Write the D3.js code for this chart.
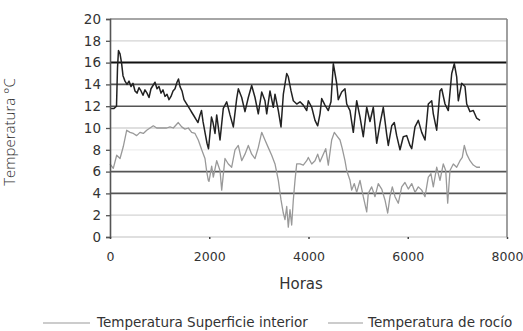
<!DOCTYPE html>
<html>
<head>
<meta charset="utf-8">
<script src="https://cdn.jsdelivr.net/npm/d3@7"></script>
<style>
  html, body { margin: 0; padding: 0; background: #fff; }
  svg { display: block; }
</style>
</head>
<body>
<svg id="chart" width="523" height="331"></svg>
<script>
// Hourly record: interior surface temperature vs dew point (°C)
const seriesNames = ["Temperatura Superficie interior", "Temperatura de rocío"];

const surfaceHours = [20, 81, 131, 151, 171, 202, 232, 262, 302, 343, 383, 423, 463, 504, 544, 584, 625, 665, 705, 746, 786, 826, 866, 907, 947, 987, 1028, 1068, 1108, 1149, 1189, 1229, 1270, 1310, 1350, 1380, 1411, 1451, 1491, 1531, 1572, 1612, 1652, 1693, 1733, 1773, 1814, 1844, 1874, 1914, 1955, 1985, 2015, 2045, 2076, 2116, 2150, 2217, 2283, 2352, 2418, 2485, 2553, 2586, 2654, 2720, 2787, 2855, 2922, 2988, 3057, 3123, 3158, 3224, 3291, 3325, 3392, 3446, 3493, 3561, 3593, 3648, 3694, 3763, 3829, 3895, 3964, 3996, 4065, 4131, 4185, 4232, 4266, 4332, 4399, 4453, 4500, 4534, 4568, 4600, 4669, 4735, 4770, 4836, 4903, 4971, 5038, 5104, 5173, 5239, 5306, 5374, 5441, 5507, 5576, 5608, 5677, 5729, 5777, 5844, 5910, 5979, 6045, 6080, 6146, 6213, 6281, 6348, 6414, 6483, 6515, 6583, 6650, 6684, 6751, 6817, 6886, 6938, 6986, 7019, 7087, 7154, 7188, 7254, 7321, 7389, 7456];
const surfaceTemp = [11.8, 11.8, 12.0, 15.5, 17.1, 16.8, 16.0, 14.8, 14.3, 14.0, 14.3, 13.8, 14.1, 13.4, 13.2, 13.7, 13.4, 13.0, 13.5, 13.2, 12.8, 13.6, 13.9, 14.2, 13.6, 13.8, 13.2, 13.5, 12.9, 13.1, 12.6, 12.9, 13.4, 13.6, 14.2, 14.5, 13.8, 13.4, 12.6, 12.3, 12.0, 11.7, 11.4, 11.1, 10.8, 10.5, 11.2, 11.6, 10.6, 9.6, 8.6, 8.1, 9.5, 11.0, 10.5, 9.5, 11.2, 8.9, 11.8, 12.4, 11.2, 10.1, 12.7, 13.6, 12.8, 11.5, 12.8, 13.9, 12.8, 11.3, 13.3, 12.5, 11.3, 13.4, 11.9, 13.1, 11.6, 10.1, 13.1, 15.0, 14.7, 13.4, 12.5, 12.2, 12.4, 12.1, 11.6, 12.5, 11.9, 10.7, 10.2, 11.3, 12.7, 12.1, 11.6, 12.4, 15.9, 15.0, 14.1, 12.6, 13.3, 13.6, 12.2, 11.6, 9.6, 12.5, 11.0, 9.2, 11.9, 10.6, 11.9, 8.6, 10.4, 11.9, 9.4, 8.4, 10.2, 10.5, 9.3, 8.0, 9.2, 9.3, 8.4, 8.1, 10.1, 10.7, 9.6, 8.9, 12.2, 12.5, 11.3, 9.8, 13.4, 13.6, 12.2, 11.6, 15.0, 15.9, 14.7, 12.5, 14.1, 13.8, 12.2, 11.5, 11.6, 10.9, 10.7];

const dewHours = [0, 66, 135, 202, 268, 337, 403, 470, 538, 605, 671, 740, 806, 873, 941, 1008, 1074, 1143, 1209, 1276, 1376, 1445, 1511, 1578, 1646, 1713, 1779, 1848, 1914, 1949, 1981, 1995, 2049, 2082, 2150, 2217, 2251, 2317, 2384, 2452, 2519, 2585, 2654, 2720, 2787, 2855, 2922, 2988, 3057, 3123, 3190, 3258, 3325, 3392, 3446, 3492, 3526, 3561, 3593, 3627, 3661, 3694, 3728, 3762, 3829, 3895, 3964, 3996, 4065, 4131, 4185, 4232, 4298, 4347, 4399, 4467, 4520, 4568, 4635, 4681, 4735, 4770, 4836, 4870, 4923, 4971, 5038, 5104, 5173, 5205, 5273, 5340, 5406, 5475, 5541, 5596, 5642, 5689, 5743, 5810, 5878, 5944, 6011, 6080, 6146, 6213, 6281, 6348, 6414, 6468, 6515, 6583, 6650, 6716, 6765, 6805, 6851, 6918, 6986, 7053, 7099, 7140, 7188, 7254, 7321, 7389, 7456];
const dewTemp = [6.7, 6.3, 7.5, 7.2, 8.3, 9.8, 9.6, 9.5, 9.3, 9.6, 9.5, 9.8, 10.0, 10.2, 10.0, 10.0, 10.0, 10.0, 10.1, 10.0, 10.5, 10.1, 9.9, 10.0, 9.6, 9.5, 8.9, 8.0, 7.2, 6.0, 5.2, 5.1, 6.5, 5.5, 7.0, 6.1, 4.3, 7.2, 6.7, 6.4, 8.0, 8.4, 7.0, 7.6, 8.4, 7.6, 7.2, 8.2, 9.6, 8.9, 8.2, 7.5, 6.7, 5.2, 3.4, 2.2, 1.6, 2.8, 0.9, 2.5, 1.1, 3.4, 5.2, 6.7, 6.7, 6.6, 7.0, 7.3, 6.7, 7.0, 7.6, 6.9, 7.6, 8.1, 6.6, 8.9, 9.6, 9.3, 8.9, 8.1, 7.0, 6.1, 5.2, 4.3, 4.9, 4.1, 5.2, 3.7, 2.3, 4.0, 4.6, 3.7, 4.9, 4.4, 3.4, 2.2, 3.7, 4.6, 3.7, 3.1, 4.6, 5.0, 4.4, 4.9, 4.1, 4.6, 4.3, 3.7, 5.5, 5.8, 4.6, 6.4, 5.2, 6.7, 6.1, 3.1, 6.1, 6.7, 6.4, 7.0, 7.3, 8.4, 7.6, 7.0, 6.6, 6.4, 6.4];

const yTicks = [0, 2, 4, 6, 8, 10, 12, 14, 16, 18, 20];
const xTicks = [0, 2000, 4000, 6000, 8000];
const xTitle = "Horas";
const yTitle = "Temperatura °C";

const svg = d3.select("#chart");
const x = d3.scaleLinear().domain([0, 8000]).range([110, 507]);
const y = d3.scaleLinear().domain([0, 20]).range([237, 19]);

// horizontal grid: some levels drawn heavier
const heavy = new Set([16]);
const medium = new Set([14, 12, 6, 4]);
const faint = new Set([8]);
svg.append("g").selectAll("line").data(yTicks.filter(v => v < 20)).join("line")
  .attr("x1", x(0)).attr("x2", x(8000))
  .attr("y1", d => y(d)).attr("y2", d => y(d))
  .attr("stroke", d => heavy.has(d) ? "#111" : medium.has(d) ? "#555" : faint.has(d) ? "#eee" : "#d4d4d4")
  .attr("stroke-width", d => heavy.has(d) ? 2 : medium.has(d) ? 1.6 : 1.3);

// frame: top and right
svg.append("line").attr("x1", x(0)).attr("x2", x(8000)).attr("y1", y(20)).attr("y2", y(20))
  .attr("stroke", "#888").attr("stroke-width", 1.6);
svg.append("line").attr("x1", x(8000)).attr("x2", x(8000)).attr("y1", y(20)).attr("y2", y(0))
  .attr("stroke", "#888").attr("stroke-width", 1.6);

// series lines
const line = d3.line().x(d => x(d[0])).y(d => y(d[1]));
svg.append("path").datum(dewHours.map((h, i) => [h, dewTemp[i]]))
  .attr("d", line).attr("fill", "none").attr("stroke", "#999").attr("stroke-width", 1.3)
  .attr("stroke-linejoin", "round");
svg.append("path").datum(surfaceHours.map((h, i) => [h, surfaceTemp[i]]))
  .attr("d", line).attr("fill", "none").attr("stroke", "#222").attr("stroke-width", 1.5)
  .attr("stroke-linejoin", "round");

// y axis
const yAxis = svg.append("g").attr("transform", `translate(${x(0)},0)`)
  .call(d3.axisLeft(y).tickValues(yTicks).tickSize(4).tickPadding(5));
yAxis.select(".domain").attr("stroke", "#555").attr("stroke-width", 1.6);
yAxis.selectAll(".tick line").attr("stroke", "#555").attr("stroke-width", 1.3);
yAxis.selectAll("text").attr("font-family", "DejaVu Sans").attr("font-size", 13.5).attr("fill", "#333");

// x axis
const xAxis = svg.append("g").attr("transform", `translate(0,${y(0)})`)
  .call(d3.axisBottom(x).tickValues(xTicks).tickFormat(d3.format("d")).tickSize(2).tickPadding(13));
xAxis.select(".domain").remove();
xAxis.selectAll(".tick line").attr("stroke", "#444").attr("stroke-width", 1.5);
xAxis.selectAll("text").attr("font-family", "DejaVu Sans").attr("font-size", 12.5).attr("fill", "#333");

// titles
svg.append("text").attr("x", 301).attr("y", 289).attr("text-anchor", "middle")
  .attr("font-family", "DejaVu Sans").attr("font-size", 15).attr("fill", "#333").text(xTitle);
svg.append("text").attr("transform", "translate(15,132) rotate(-90)").attr("text-anchor", "middle")
  .attr("font-family", "Open Sans").attr("font-weight", 300).attr("font-size", 15).attr("fill", "#333")
  .text(yTitle);

// legend
const legend = [
  { name: seriesNames[0], x1: 43, x2: 90, tx: 97 },
  { name: seriesNames[1], x1: 328, x2: 363, tx: 368 }
];
legend.forEach(l => {
  svg.append("line").attr("x1", l.x1).attr("x2", l.x2).attr("y1", 323).attr("y2", 323)
    .attr("stroke", "#999").attr("stroke-width", 1);
  svg.append("text").attr("x", l.tx).attr("y", 327)
    .attr("font-family", "DejaVu Sans").attr("font-size", 13.5).attr("fill", "#333").text(l.name);
});
</script>
</body>
</html>
